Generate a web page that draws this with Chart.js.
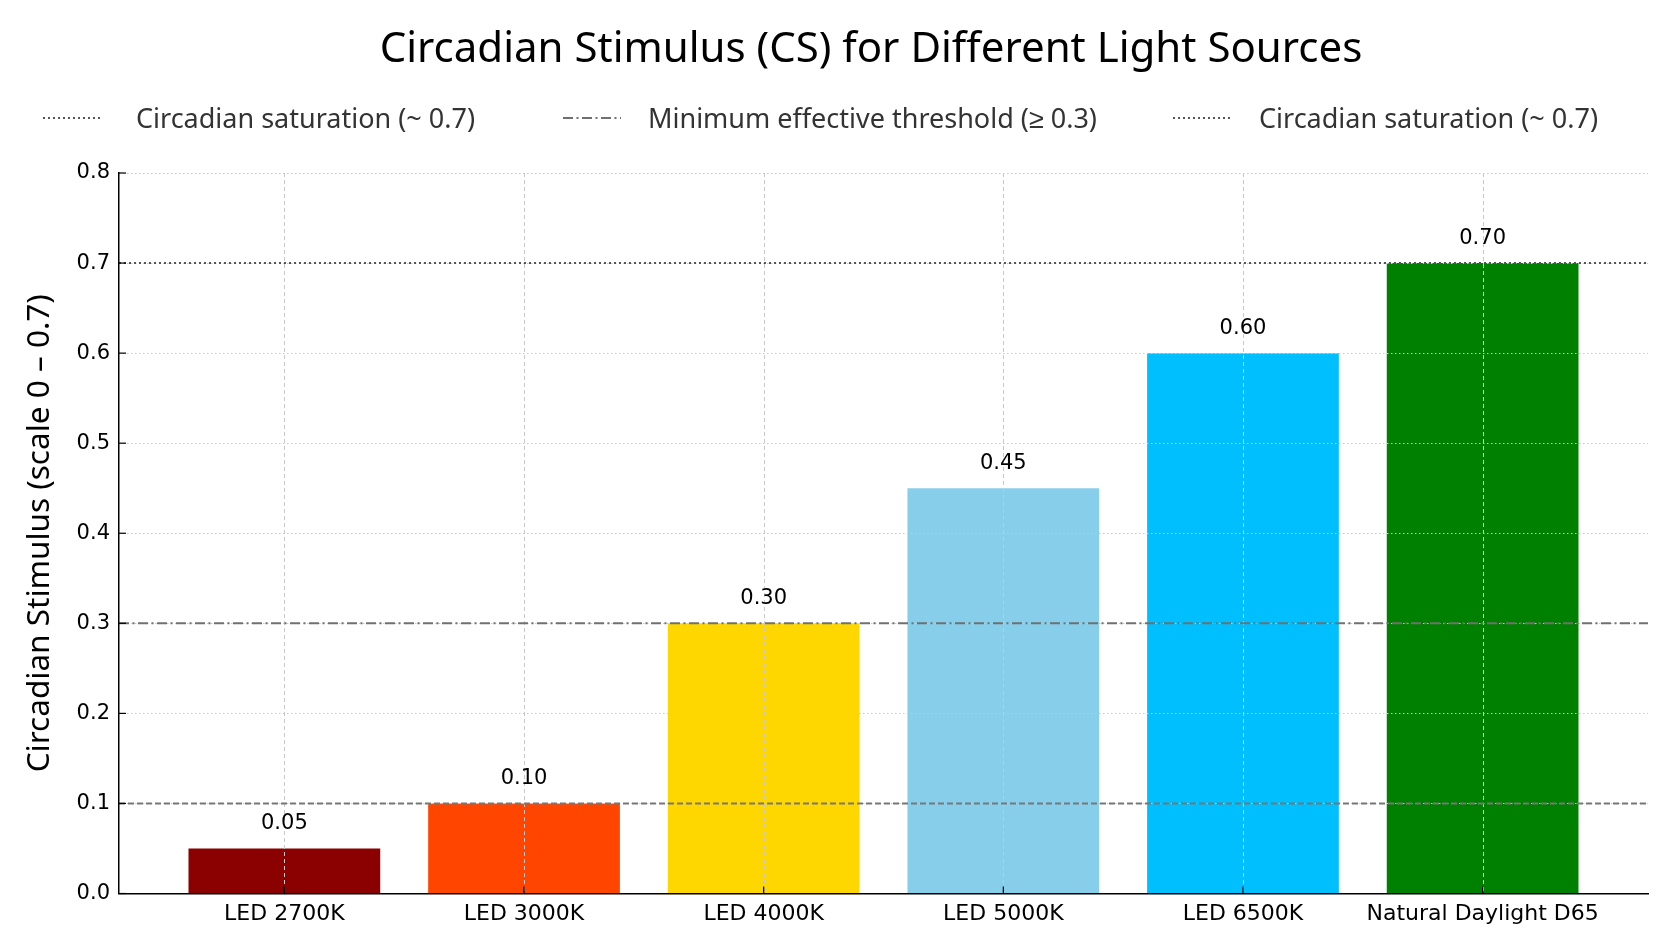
<!DOCTYPE html>
<html>
<head>
<meta charset="utf-8">
<script src="https://cdn.jsdelivr.net/npm/chart.js@4.4.1/dist/chart.umd.min.js"></script>
<style>
  html, body { margin: 0; padding: 0; background: #fff; }
</style>
</head>
<body>
<canvas id="chart" width="1676" height="938"></canvas>
<script>
const categories = ['LED 2700K', 'LED 3000K', 'LED 4000K', 'LED 5000K', 'LED 6500K', 'Natural Daylight D65'];
const csValues = [0.05, 0.10, 0.30, 0.45, 0.60, 0.70];
const barColors = ['#8b0000', '#ff4500', '#ffd700', '#87ceeb', '#00bfff', '#008000'];

// horizontal reference lines (0.1 one has no legend entry in the original)
const refValues = [0.7, 0.3, 0.1];
const refDashes = [[2, 3], [10, 3.5, 2, 3.5], [6, 3]];
const refColors = ['#555555', '#707070', '#777777'];

const legendLabels = ['Circadian saturation (~ 0.7)', 'Minimum effective threshold (\u2265 0.3)', 'Circadian saturation (~ 0.7)'];
const legendDashes = [[2, 3], [10, 3.5, 2, 3.5], [2, 3]];
const legendColors = ['#555555', '#707070', '#555555'];

const TITLE = 'Circadian Stimulus (CS) for Different Light Sources';
const TICK_FONT = '"DejaVu Sans", sans-serif';
const TEXT_FONT = '"Noto Sans", sans-serif';

function line(ctx, x1, y1, x2, y2) {
  ctx.beginPath();
  ctx.moveTo(x1, y1);
  ctx.lineTo(x2, y2);
  ctx.stroke();
}

const overlay = {
  id: 'overlay',
  afterDatasetsDraw(chart) {
    const {ctx, chartArea: {left, right, top, bottom}, scales: {x, y}} = chart;
    ctx.save();

    // grid drawn over the bars, like the original
    ctx.lineWidth = 1;
    ctx.strokeStyle = '#c8c8c8';
    ctx.setLineDash([1.5, 2.5]);
    y.ticks.forEach(t => {
      if (t.value <= 0) return;
      const py = Math.round(y.getPixelForValue(t.value)) + 0.5;
      line(ctx, left, py, right, py);
    });
    ctx.setLineDash([4, 3]);
    x.ticks.forEach(t => {
      const px = Math.round(x.getPixelForValue(t.value)) + 0.5;
      line(ctx, px, top, px, bottom);
    });

    // reference lines
    refValues.forEach((v, i) => {
      const py = y.getPixelForValue(v);
      ctx.setLineDash(refDashes[i]);
      ctx.strokeStyle = refColors[i];
      ctx.lineWidth = 2;
      line(ctx, left, py, right, py);
    });

    // inward tick marks
    ctx.setLineDash([]);
    ctx.strokeStyle = '#000';
    ctx.lineWidth = 1.2;
    y.ticks.forEach(t => {
      const py = y.getPixelForValue(t.value);
      line(ctx, left, py, left + 7, py);
    });
    x.ticks.forEach(t => {
      const px = x.getPixelForValue(t.value);
      line(ctx, px, bottom, px, bottom - 7);
    });

    // value labels
    const meta = chart.getDatasetMeta(0);
    ctx.fillStyle = '#000';
    ctx.font = '21px ' + TICK_FONT;
    ctx.textAlign = 'center';
    ctx.textBaseline = 'alphabetic';
    meta.data.forEach((bar, i) => {
      ctx.fillText(csValues[i].toFixed(2), bar.x, bar.y - 19);
    });
    ctx.restore();
  },
  afterDraw(chart) {
    const {ctx} = chart;
    ctx.save();
    ctx.fillStyle = '#000';
    ctx.font = '42px ' + TEXT_FONT;
    ctx.textAlign = 'center';
    ctx.textBaseline = 'alphabetic';
    ctx.fillText(TITLE, 871, 61.5);

    // legend, one row across the top
    const itemX = [43, 563, 1173];
    const textX = [136, 648, 1259];
    ctx.font = '27px ' + TEXT_FONT;
    ctx.textAlign = 'left';
    legendLabels.forEach((txt, i) => {
      ctx.setLineDash(legendDashes[i]);
      ctx.strokeStyle = legendColors[i];
      ctx.lineWidth = 2;
      line(ctx, itemX[i], 118, itemX[i] + 58, 118);
      ctx.fillStyle = '#333';
      ctx.fillText(txt, textX[i], 128);
    });
    ctx.restore();
  }
};

function draw() {
  new Chart(document.getElementById('chart'), {
    type: 'bar',
    data: {
      datasets: [{
        label: 'CS',
        data: csValues.map((v, i) => ({x: i, y: v})),
        backgroundColor: barColors,
        borderWidth: 0,
        categoryPercentage: 1,
        barPercentage: 0.8
      }]
    },
    options: {
      responsive: false,
      animation: false,
      layout: {padding: {top: 173, right: 28, left: 0, bottom: 0}},
      plugins: {
        legend: {display: false},
        title: {display: false},
        tooltip: {enabled: false}
      },
      scales: {
        x: {
          type: 'linear',
          offset: false,
          min: -0.69,
          max: 5.69,
          afterBuildTicks: s => { s.ticks = categories.map((_, i) => ({value: i})); },
          afterFit: s => { s.height = 938 - 893.5; },
          ticks: {
            autoSkip: false,
            maxRotation: 0,
            color: '#000',
            padding: 8,
            font: {family: TICK_FONT, size: 22},
            callback: v => categories[v]
          },
          grid: {display: false, drawTicks: false},
          border: {display: true, color: '#000', width: 1.5, z: 1}
        },
        y: {
          min: 0,
          max: 0.8,
          afterFit: s => { s.width = 119; },
          ticks: {
            stepSize: 0.1,
            color: '#000',
            padding: 9,
            font: {family: TICK_FONT, size: 21},
            callback: v => v.toFixed(1)
          },
          grid: {display: false, drawTicks: false},
          border: {display: true, color: '#000', width: 1.5, z: 1},
          title: {
            display: true,
            text: 'Circadian Stimulus (scale 0 \u2013 0.7)',
            color: '#000',
            font: {family: TEXT_FONT, size: 31.5},
            padding: {top: 21, bottom: 0}
          }
        }
      }
    },
    plugins: [overlay]
  });
}

Promise.all([
  document.fonts.load('42px "Noto Sans"'),
  document.fonts.load('21px "DejaVu Sans"')
]).then(draw, draw);
</script>
</body>
</html>
